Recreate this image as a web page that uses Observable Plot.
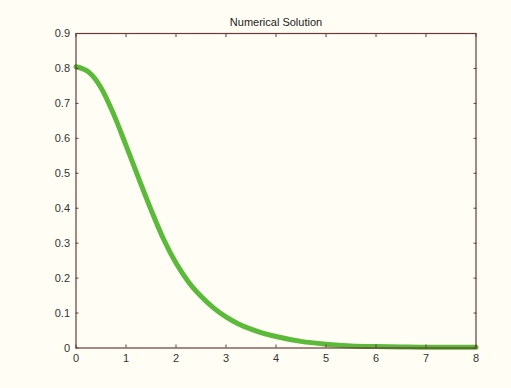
<!DOCTYPE html>
<html>
<head>
<meta charset="utf-8">
<script src="https://cdn.jsdelivr.net/npm/d3@7"></script>
<script src="https://cdn.jsdelivr.net/npm/@observablehq/plot@0.6"></script>
<style>
  html, body { margin: 0; padding: 0; background: #fffdf4; }
  #chart svg { display: block; }
</style>
</head>
<body>
<div id="chart"></div>
<script>
const title = "Numerical Solution";
const xValues = [0, 0.25, 0.5, 0.75, 1.0, 1.25, 1.5, 1.75, 2.0, 2.25, 2.5, 2.75, 3.0, 3.25, 3.5, 3.75, 4.0, 4.5, 5.0, 5.5, 6.0, 6.5, 7.0, 7.5, 8.0];
const yValues = [0.805, 0.79, 0.745, 0.67, 0.58, 0.487, 0.396, 0.312, 0.243, 0.189, 0.148, 0.115, 0.089, 0.069, 0.054, 0.042, 0.033, 0.019, 0.011, 0.006, 0.004, 0.003, 0.002, 0.002, 0.002];
const xTicks = [0, 1, 2, 3, 4, 5, 6, 7, 8];
const yTicks = [0, 0.1, 0.2, 0.3, 0.4, 0.5, 0.6, 0.7, 0.8, 0.9];

const data = xValues.map((x, i) => ({x, y: yValues[i]}));
const frameColor = "#6a3a38";
const textColor = "#333";

const chart = Plot.plot({
  width: 511,
  height: 388,
  marginLeft: 75.5,
  marginRight: 35.5,
  marginTop: 33,
  marginBottom: 40.5,
  style: {background: "#fffdf4", fontFamily: "'Liberation Sans', Arial, sans-serif", fontSize: "11px", color: textColor},
  x: {domain: [0, 8]},
  y: {domain: [0, 0.9]},
  marks: [
    Plot.line(data, {x: "x", y: "y", curve: "monotone-x", stroke: "#5bba3a", strokeWidth: 5, strokeLinecap: "round"}),
    Plot.frame({stroke: frameColor, strokeWidth: 1.2}),
    Plot.axisX(xTicks, {anchor: "bottom", tickSize: -3, tickPadding: 9, stroke: frameColor, label: null, tickFormat: d => String(d), fill: textColor}),
    Plot.axisX(xTicks, {anchor: "top", tickSize: -3, tickFormat: null, text: null, stroke: frameColor, label: null}),
    Plot.axisY(yTicks, {anchor: "left", tickSize: -3, tickPadding: 9, stroke: frameColor, label: null, tickFormat: d => d === 0 ? "0" : d3.format(".1f")(d), fill: textColor}),
    Plot.axisY(yTicks, {anchor: "right", tickSize: -3, tickFormat: null, text: null, stroke: frameColor, label: null}),
    Plot.text([title], {frameAnchor: "top", dy: -15, text: d => d, fill: "#222", fontSize: 11})
  ]
});
document.getElementById("chart").appendChild(chart);
</script>
</body>
</html>
